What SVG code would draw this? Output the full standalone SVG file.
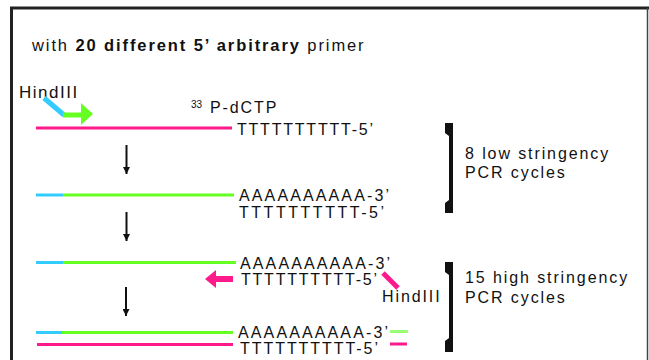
<svg xmlns="http://www.w3.org/2000/svg" width="649" height="360" viewBox="0 0 649 360">
<defs>
<style>
text{font-family:"Liberation Sans",Arial,sans-serif;fill:#111}
.t{font-size:16px;letter-spacing:1.9px}
.seq{font-size:16px}
.pk{stroke:#ff1a8c;stroke-width:3;fill:none}
.cy{stroke:#33ccff;stroke-width:3;fill:none}
.gr{stroke:#66ff22;stroke-width:3;fill:none}
.arr{stroke:#111;stroke-width:2;fill:none;marker-end:url(#ah)}
.br{fill:#111}
</style>
<marker id="ah" markerUnits="userSpaceOnUse" markerWidth="8" markerHeight="7" refX="7" refY="3.5" orient="auto">
<path d="M0,0 L7,3.5 L0,7 Z" fill="#111"/>
</marker>
</defs>
<rect width="649" height="360" fill="#fff"/>
<g id="frame">
<path d="M11.5,360 V8 H649" fill="none" stroke="#222" stroke-width="3"/>
<line x1="647.5" y1="8" x2="647.5" y2="360" stroke="#444" stroke-width="1.5"/>
</g>
<g id="title">
<text x="32" y="51" font-size="16.5" letter-spacing="1.9">with <tspan font-weight="bold">20 different 5’ arbitrary</tspan> primer</text>
</g>
<g id="primer">
<text x="19" y="98" font-size="17" letter-spacing="1.5">HindIII</text>
<line x1="44" y1="98" x2="64" y2="115" stroke="#33ccff" stroke-width="5"/>
<line x1="63" y1="115" x2="82" y2="115" stroke="#66ff22" stroke-width="5"/>
<polygon points="81,103 93,114 81,125" fill="#66ff22"/>
<text x="191" y="108" font-size="10">33</text>
<text x="210" y="113" class="t" letter-spacing="2">P-dCTP</text>
</g>
<g id="row1">
<line class="pk" x1="36" y1="128" x2="232" y2="128"/>
<text class="seq" x="237" y="135" textLength="136" lengthAdjust="spacing">TTTTTTTTTT-5’</text>
</g>
<g id="row2">
<line class="cy" x1="36" y1="195" x2="63" y2="195"/>
<line class="gr" x1="63" y1="195" x2="234" y2="195"/>
<text class="seq" x="239" y="201" textLength="150" lengthAdjust="spacing">AAAAAAAAAA-3’</text>
<text class="seq" x="239" y="218" textLength="145" lengthAdjust="spacing">TTTTTTTTTT-5’</text>
</g>
<g id="row3">
<line class="cy" x1="36" y1="262.5" x2="63" y2="262.5"/>
<line class="gr" x1="63" y1="262.5" x2="236" y2="262.5"/>
<text class="seq" x="240" y="269" textLength="150" lengthAdjust="spacing">AAAAAAAAAA-3’</text>
<text class="seq" x="241" y="285" textLength="136" lengthAdjust="spacing">TTTTTTTTTT-5’</text>
<rect x="214" y="276" width="19" height="6" fill="#ff1a8c"/>
<polygon points="205,279 216,270 216,288" fill="#ff1a8c"/>
<line x1="383" y1="273" x2="398" y2="288" stroke="#ff1a8c" stroke-width="5"/>
<text x="382" y="302" class="t" letter-spacing="1.6">HindIII</text>
</g>
<g id="row4">
<line class="cy" x1="36" y1="332.5" x2="62" y2="332.5"/>
<line class="gr" x1="62" y1="332.5" x2="233" y2="332.5"/>
<line class="pk" x1="37" y1="344.5" x2="233" y2="344.5"/>
<text class="seq" x="238" y="338" textLength="150" lengthAdjust="spacing">AAAAAAAAAA-3’</text>
<text class="seq" x="240" y="354" textLength="138" lengthAdjust="spacing">TTTTTTTTTT-5’</text>
<line x1="390" y1="331.5" x2="408" y2="331.5" stroke="#99ff77" stroke-width="3"/>
<line x1="390" y1="344" x2="407" y2="344" stroke="#ff1a8c" stroke-width="3"/>
</g>
<g id="bracket-low">
<path class="br" d="M445,123 H453 V213 H445 V203 L449,200 V136 L445,133 Z"/>
<text class="t" x="465" y="159">8 low stringency</text>
<text class="t" x="465" y="178">PCR cycles</text>
</g>
<g id="bracket-high">
<path class="br" d="M445,262 H453 V352 H445 V341 L449,338 V275 L445,272 Z"/>
<text class="t" x="465" y="283">15 high stringency</text>
<text class="t" x="465" y="303">PCR cycles</text>
</g>
<g id="connectors">
<line class="arr" x1="126.5" y1="145" x2="126.5" y2="174"/>
<line class="arr" x1="126.5" y1="212" x2="126.5" y2="241"/>
<line class="arr" x1="126" y1="287" x2="126" y2="316"/>
</g>
</svg>
